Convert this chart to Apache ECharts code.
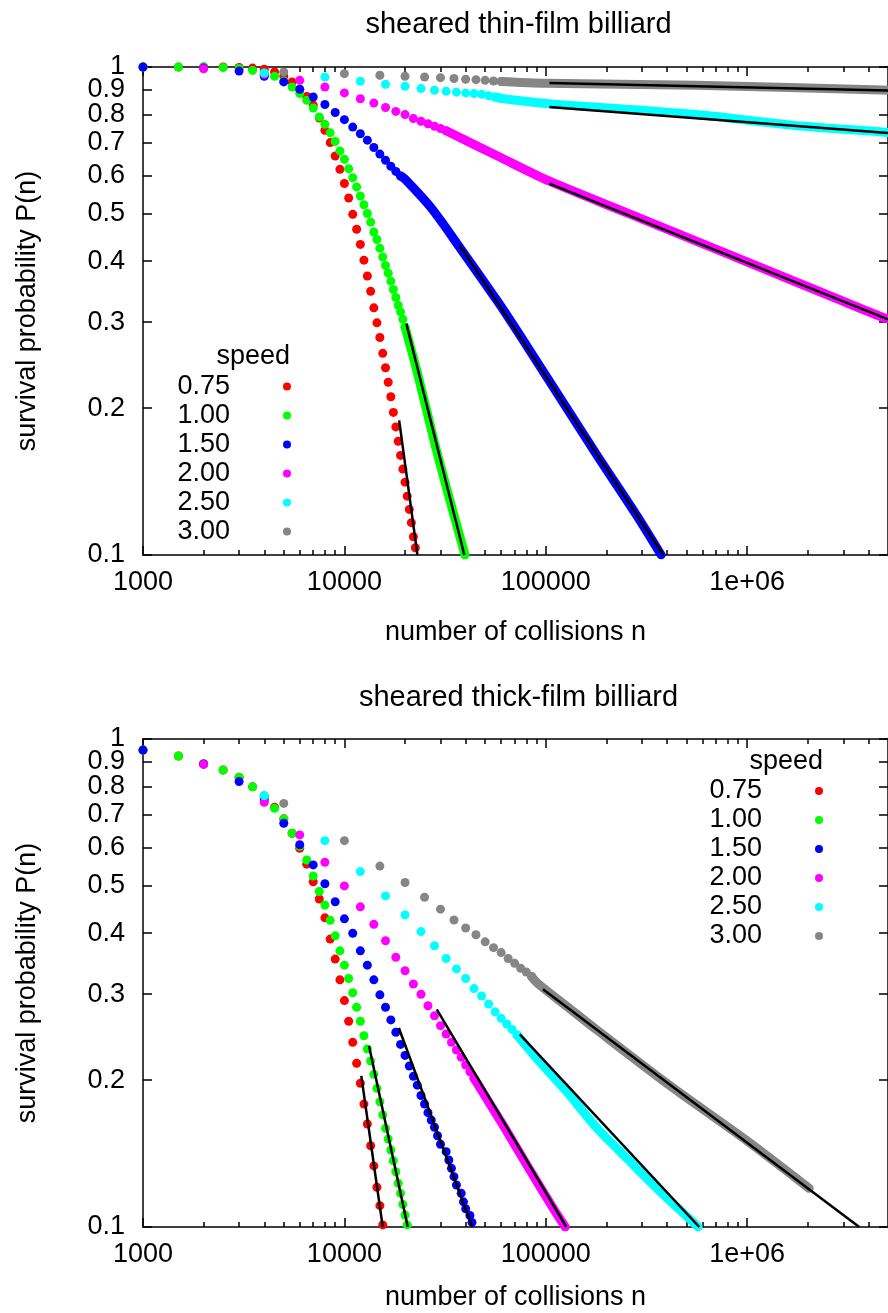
<!DOCTYPE html>
<html><head><meta charset="utf-8">
<script src="https://cdn.jsdelivr.net/npm/echarts@6/dist/echarts.min.js"></script>
<style>html,body{margin:0;padding:0;background:#fff}#c{width:888px;height:1313px}</style>
</head><body><div id="c"></div>
<script>
const speeds = ['0.75','1.00','1.50','2.00','2.50','3.00'];
const colors = ['#ff0000','#00ff00','#0000ff','#ff00ff','#00ffff','#868686'];
const panelTitles = ['sheared thin-film billiard','sheared thick-film billiard'];
const xAxisTitle = 'number of collisions n';
const yAxisTitle = 'survival probability P(n)';
const legendTitle = 'speed';
const xRange = [1000, 5000000];
const yRange = [0.1, 1];
const xTickValues = [1000, 10000, 100000, 1000000];
const xTickLabels = ['1000', '10000', '100000', '1e+06'];
const xMinorTicks = [2000,3000,4000,5000,6000,7000,8000,9000,20000,30000,40000,50000,60000,70000,80000,90000,
  200000,300000,400000,500000,600000,700000,800000,900000,2000000,3000000,4000000];
const yTickValues = [1,0.9,0.8,0.7,0.6,0.5,0.4,0.3,0.2,0.1];
const yTickLabels = ['1','0.9','0.8','0.7','0.6','0.5','0.4','0.3','0.2','0.1'];

// ---- thin-film panel: [n, P(n)] ----
const thin075 = [[1000,1],[1500,1],[2000,1],[2500,1],[3000,0.998],[3500,0.995],[4000,0.99],[4500,0.977],[5000,0.958],[5500,0.932],[6000,0.90],[6500,0.870],[7000,0.835],[7500,0.786],[8000,0.742],[8500,0.700],[9000,0.657],[9500,0.617],[10000,0.577],[10500,0.539],[11000,0.499],[11500,0.465],[12000,0.433],[12500,0.402],[13000,0.373],[13500,0.347],[14000,0.321],[14500,0.299],[15000,0.279],[15500,0.259],[16000,0.242],[16500,0.226],[17000,0.211],[17500,0.196],[18000,0.183],[18500,0.171],[19000,0.160],[19500,0.150],[20000,0.141],[20500,0.132],[21000,0.124],[21500,0.1165],[22000,0.109],[22500,0.1035]];
const thin100 = [[1000,1],[1500,1],[2000,1],[2500,0.998],[3000,0.993],[3500,0.984],[4000,0.972],[4500,0.957],[5000,0.936],[5500,0.910],[6000,0.882],[6500,0.855],[7000,0.824],[7500,0.790],[8000,0.763],[8500,0.733],[9000,0.704],[9500,0.673],[10000,0.647],[10500,0.619],[11000,0.593],[11500,0.568],[12000,0.544],[12500,0.522],[13000,0.501],[13500,0.481],[14000,0.459],[14500,0.443],[15000,0.425],[15500,0.408],[16000,0.392],[16500,0.378],[17000,0.364],[17500,0.350],[18000,0.337],[18500,0.325],[19000,0.315],[19500,0.304],[20000,0.293]];
const thin100Band = [[20000,0.293],[23200,0.2335],[28200,0.168],[33400,0.1294],[39700,0.1]];
const thin150 = [[1000,1],[2000,0.995],[3000,0.981],[4000,0.957],[5000,0.932],[6000,0.900],[7000,0.868],[8000,0.838],[9000,0.807],[10000,0.780],[11000,0.753],[12000,0.730],[13000,0.708],[14000,0.684],[15000,0.663],[16000,0.644],[17000,0.626],[18000,0.611],[19000,0.598]];
const thin150Band = [[19000,0.598],[20000,0.589],[27000,0.514],[37200,0.428],[57600,0.331],[80600,0.268],[178000,0.161],[281000,0.121],[374000,0.1]];
const thin200 = [[2000,0.992],[4000,0.966],[6000,0.939],[8000,0.910],[10000,0.885],[12000,0.861],[14000,0.844],[16000,0.826],[18000,0.811],[20000,0.799],[22000,0.784],[24000,0.774],[26000,0.765],[28000,0.756],[30000,0.748],[32000,0.740]];
const thin200Band = [[32000,0.740],[57600,0.657],[103800,0.584],[260200,0.500],[809000,0.413],[2515000,0.341],[4690000,0.307],[5000000,0.305]];
const thin250 = [[4000,0.972],[8000,0.954],[12000,0.935],[16000,0.922],[20000,0.913],[24000,0.903],[28000,0.896],[32000,0.892],[36000,0.888],[40000,0.885],[44000,0.882],[48000,0.879],[52000,0.873],[56000,0.868]];
const thin250Band = [[56000,0.868],[62000,0.861],[103800,0.841],[556000,0.799],[1730000,0.759],[4690000,0.736],[5000000,0.734]];
const thin300 = [[5000,0.977],[10000,0.969],[15000,0.962],[20000,0.957],[25000,0.954],[30000,0.951],[35000,0.947],[40000,0.944],[45000,0.942],[50000,0.939],[55000,0.936],[60000,0.934]];
const thin300Band = [[60000,0.934],[100000,0.926],[556000,0.917],[4690000,0.897],[5000000,0.896]];
const fitThin075 = [[18700,0.1888],[23050,0.1]];
const fitThin100 = [[20300,0.298],[39400,0.1]];
const fitThin150 = [[37400,0.431],[383000,0.1]];
const fitThin200 = [[104200,0.577],[5000000,0.304]];
const fitThin250 = [[104200,0.828],[5000000,0.732]];
const fitThin300 = [[104200,0.927],[5000000,0.895]];

// ---- thick-film panel: [n, P(n)] ----
const thick075 = [[1000,0.949],[1500,0.923],[2000,0.889],[2500,0.864],[3000,0.835],[3500,0.798],[4000,0.762],[4500,0.725],[5000,0.686],[5500,0.641],[6000,0.597],[6500,0.554],[7000,0.510],[7500,0.470],[8000,0.430],[8500,0.389],[9000,0.354],[9500,0.321],[10000,0.291],[10500,0.264],[11000,0.239],[11500,0.2165],[12000,0.197],[12500,0.1786],[13000,0.1626],[13500,0.1467],[14000,0.1334],[14500,0.1206],[15000,0.1106],[15500,0.101]];
const thick100 = [[1000,0.949],[1500,0.923],[2000,0.889],[2500,0.864],[3000,0.835],[3500,0.798],[4000,0.765],[4500,0.721],[5000,0.686],[5500,0.641],[6000,0.603],[6500,0.565],[7000,0.524],[7500,0.487],[8000,0.457],[8500,0.425],[9000,0.395],[9500,0.368],[10000,0.344],[10500,0.323],[11000,0.302],[11500,0.282],[12000,0.264],[12500,0.2466],[13000,0.2316],[13500,0.2189],[14000,0.2055],[14500,0.1924],[15000,0.1806],[15500,0.1697],[16000,0.1593],[16500,0.1515],[17000,0.1438],[17500,0.1367],[18000,0.1298],[18500,0.1229],[19000,0.1172],[19500,0.1113],[20000,0.1058],[20500,0.101]];
const thick150 = [[1000,0.949],[2000,0.889],[3000,0.818],[4000,0.75],[5000,0.672],[6000,0.607],[7000,0.552],[8000,0.505],[9000,0.464],[10000,0.428],[11000,0.400],[12000,0.368],[13000,0.344],[14000,0.321],[15000,0.299],[16000,0.282],[17000,0.2657],[18000,0.2506],[19000,0.2367],[20000,0.2247],[21000,0.2137],[22000,0.2036],[23000,0.1953],[24000,0.186],[25000,0.1787],[26000,0.1715],[27000,0.1656],[28000,0.1601],[29000,0.1538],[30000,0.1478],[32000,0.1427],[33000,0.1372],[34000,0.1319],[35000,0.1268],[36000,0.1219],[38000,0.1172],[39000,0.1126],[40000,0.109],[42000,0.1056],[43000,0.1022]];
const thick200 = [[2000,0.887],[4000,0.742],[6000,0.636],[8000,0.559],[10000,0.500],[12000,0.453],[14000,0.417],[16000,0.386],[18000,0.357],[20000,0.335],[22000,0.3147],[24000,0.2998],[26000,0.284],[28000,0.271],[30000,0.2586],[32000,0.2486],[34000,0.239],[36000,0.2305],[38000,0.2227],[40000,0.2148],[42000,0.208],[44000,0.2017]];
const thick200Band = [[44000,0.2017],[46000,0.196],[62000,0.1605],[83300,0.1309],[107700,0.110],[124900,0.1]];
const thick250 = [[4000,0.765],[8000,0.619],[12000,0.535],[16000,0.477],[20000,0.436],[24000,0.403],[28000,0.377],[32000,0.355],[36000,0.338],[40000,0.323],[44000,0.308],[48000,0.2974],[52000,0.2864],[56000,0.276],[60000,0.2677],[64000,0.2606],[68000,0.254],[72000,0.2474]];
const thick250Band = [[72000,0.2474],[94700,0.2165],[127600,0.189],[179400,0.1595],[252000,0.1384],[354200,0.1202],[477300,0.1071],[571000,0.1]];
const thick300 = [[5000,0.738],[10000,0.619],[15000,0.549],[20000,0.508],[25000,0.474],[30000,0.448],[35000,0.4256],[40000,0.410],[45000,0.397],[50000,0.384],[55000,0.3736],[60000,0.365],[65000,0.355],[70000,0.347],[75000,0.339],[80000,0.333],[85000,0.326]];
const thick300Band = [[85000,0.326],[90800,0.316],[127400,0.283],[179400,0.2533],[420000,0.1939],[984000,0.1508],[2030000,0.120]];
const fitThick075 = [[12130,0.204],[15500,0.1]];
const fitThick100 = [[13250,0.235],[20640,0.1]];
const fitThick150 = [[18640,0.2557],[43100,0.1]];
const fitThick200 = [[28740,0.2793],[126500,0.1]];
const fitThick250 = [[74300,0.2482],[578000,0.1]];
const fitThick300 = [[96800,0.307],[3600000,0.1]];

const panels = [
  { dots:[thin075,thin100,thin150,thin200,thin250,thin300],
    bands:[null,thin100Band,thin150Band,thin200Band,thin250Band,thin300Band],
    fits:[fitThin075,fitThin100,fitThin150,fitThin200,fitThin250,fitThin300] },
  { dots:[thick075,thick100,thick150,thick200,thick250,thick300],
    bands:[null,null,null,thick200Band,thick250Band,thick300Band],
    fits:[fitThick075,fitThick100,fitThick150,fitThick200,fitThick250,fitThick300] }
];

// ---- layout ----
const FF = '"Liberation Sans", Arial, Helvetica, sans-serif';
const FS = 27;
const gridTops = [67, 739];
const gridLeft = 143, gridW = 751, gridH = 488;
const titleTops = [10, 683];
const xNameGaps = [64, 57];
const legendPos = [{right:597, top:372, sx:290, sy:357}, {right:65, top:776.5, sx:823, sy:762}];

const lg = v => Math.log10(v);
const L = d => d.map(p => [lg(p[0]), lg(p[1])]);
const xMaj = xTickValues.map(lg), xMin = xMinorTicks.map(lg), yMaj = yTickValues.map(lg);
const fmt = (vals, labels) => v => { const i = vals.findIndex(t => Math.abs(lg(t) - v) < 1e-6); return i >= 0 ? labels[i] : ''; };
const blk = {color:'#000', width:1.5};
// y tick labels are spread over three label-only axes so that none is auto-hidden for overlap
const yLabelGroups = [
  yMaj.filter((v, i) => i === 0),
  yMaj.filter((v, i) => i % 2 === 1),
  yMaj.filter((v, i) => i > 0 && i % 2 === 0)
];

const grid = [], xAxis = [], yAxis = [], series = [], legend = [], title = [], graphic = [];
panels.forEach((pn, g) => {
  grid.push({left:gridLeft, top:gridTops[g], width:gridW, height:gridH, containLabel:false});
  const xb = xAxis.length, yb = yAxis.length;
  const xcommon = {gridIndex:g, type:'value', min:lg(xRange[0]), max:lg(xRange[1]), splitLine:{show:false}, minorTick:{show:false}};
  xAxis.push(Object.assign({}, xcommon, {position:'bottom',
    axisLine:{show:true,onZero:false,lineStyle:blk},
    axisTick:{show:true,inside:true,length:9,customValues:xMaj,lineStyle:blk},
    axisLabel:{show:true,customValues:xMaj,formatter:fmt(xTickValues,xTickLabels),margin:14,color:'#000',fontSize:FS,fontFamily:FF},
    name:xAxisTitle,nameLocation:'middle',nameGap:xNameGaps[g],nameTextStyle:{color:'#000',fontSize:FS,fontFamily:FF}}));
  xAxis.push(Object.assign({}, xcommon, {position:'bottom',
    axisLine:{show:false,onZero:false},
    axisTick:{show:true,inside:true,length:5,customValues:xMin,lineStyle:blk},
    axisLabel:{show:false}}));
  xAxis.push(Object.assign({}, xcommon, {position:'top',
    axisLine:{show:true,onZero:false,lineStyle:blk},
    axisTick:{show:true,inside:true,length:9,customValues:xMaj,lineStyle:blk},
    axisLabel:{show:false}}));
  xAxis.push(Object.assign({}, xcommon, {position:'top',
    axisLine:{show:false,onZero:false},
    axisTick:{show:true,inside:true,length:5,customValues:xMin,lineStyle:blk},
    axisLabel:{show:false}}));
  const ycommon = {gridIndex:g, type:'value', min:lg(yRange[0]), max:lg(yRange[1]), splitLine:{show:false}};
  yAxis.push(Object.assign({}, ycommon, {position:'left',
    axisLine:{show:true,onZero:false,lineStyle:blk},
    axisTick:{show:true,inside:true,length:9,customValues:yMaj,lineStyle:blk},
    axisLabel:{show:false},
    name:yAxisTitle,nameLocation:'middle',nameGap:102,nameRotate:90,nameTextStyle:{color:'#000',fontSize:FS,fontFamily:FF}}));
  yAxis.push(Object.assign({}, ycommon, {position:'right',
    axisLine:{show:true,onZero:false,lineStyle:blk},
    axisTick:{show:true,inside:true,length:9,customValues:yMaj,lineStyle:blk},
    axisLabel:{show:false}}));
  yLabelGroups.forEach(vals => {
    yAxis.push(Object.assign({}, ycommon, {position:'left',
      axisLine:{show:false,onZero:false}, axisTick:{show:false},
      axisLabel:{show:true,customValues:vals,formatter:fmt(yTickValues,yTickLabels),margin:18,color:'#000',fontSize:FS,fontFamily:FF,showMinLabel:true,showMaxLabel:true}}));
  });

  speeds.forEach((s, i) => {
    series.push({type:'scatter', name:s, xAxisIndex:xb, yAxisIndex:yb, data:L(pn.dots[i]),
      symbol:'circle', symbolSize:9, itemStyle:{color:colors[i], opacity:1}, clip:false, silent:true, z:2});
    if (pn.bands[i]) {
      series.push({type:'line', name:s+' dense', xAxisIndex:xb, yAxisIndex:yb, data:L(pn.bands[i]),
        showSymbol:false, symbol:'none', smooth:0.3,
        lineStyle:{color:colors[i], width:9, cap:'round', join:'round'},
        clip:true, silent:true, z:2});
    }
  });
  speeds.forEach((s, i) => {
    series.push({type:'line', name:'fit '+s, xAxisIndex:xb, yAxisIndex:yb, data:L(pn.fits[i]),
      showSymbol:false, symbol:'none', lineStyle:{color:'#000', width:2.5}, clip:true, silent:true, z:5});
  });

  const lp = legendPos[g];
  legend.push({data:speeds.map(s => ({name:s, icon:'circle'})), orient:'vertical', align:'right',
    right:lp.right, top:lp.top, padding:0, itemGap:0, itemWidth:8, itemHeight:8, selectedMode:false,
    textStyle:{color:'#000', fontSize:FS, fontFamily:FF, lineHeight:29, padding:[0,48,0,0]}});
  graphic.push({type:'text', x:lp.sx, y:lp.sy, style:{text:legendTitle, fill:'#000', fontSize:FS, fontFamily:FF, align:'right', verticalAlign:'middle'}});
  title.push({text:panelTitles[g], left:gridLeft + gridW/2, top:titleTops[g], textAlign:'center', padding:0,
    textStyle:{color:'#000', fontSize:29, fontWeight:'normal', fontFamily:FF}});
});

const chart = echarts.init(document.getElementById('c'), null, {renderer:'canvas'});
chart.setOption({animation:false, backgroundColor:'#fff', title, grid, xAxis, yAxis, legend, graphic, series, tooltip:{show:false}});
</script>
</body></html>
